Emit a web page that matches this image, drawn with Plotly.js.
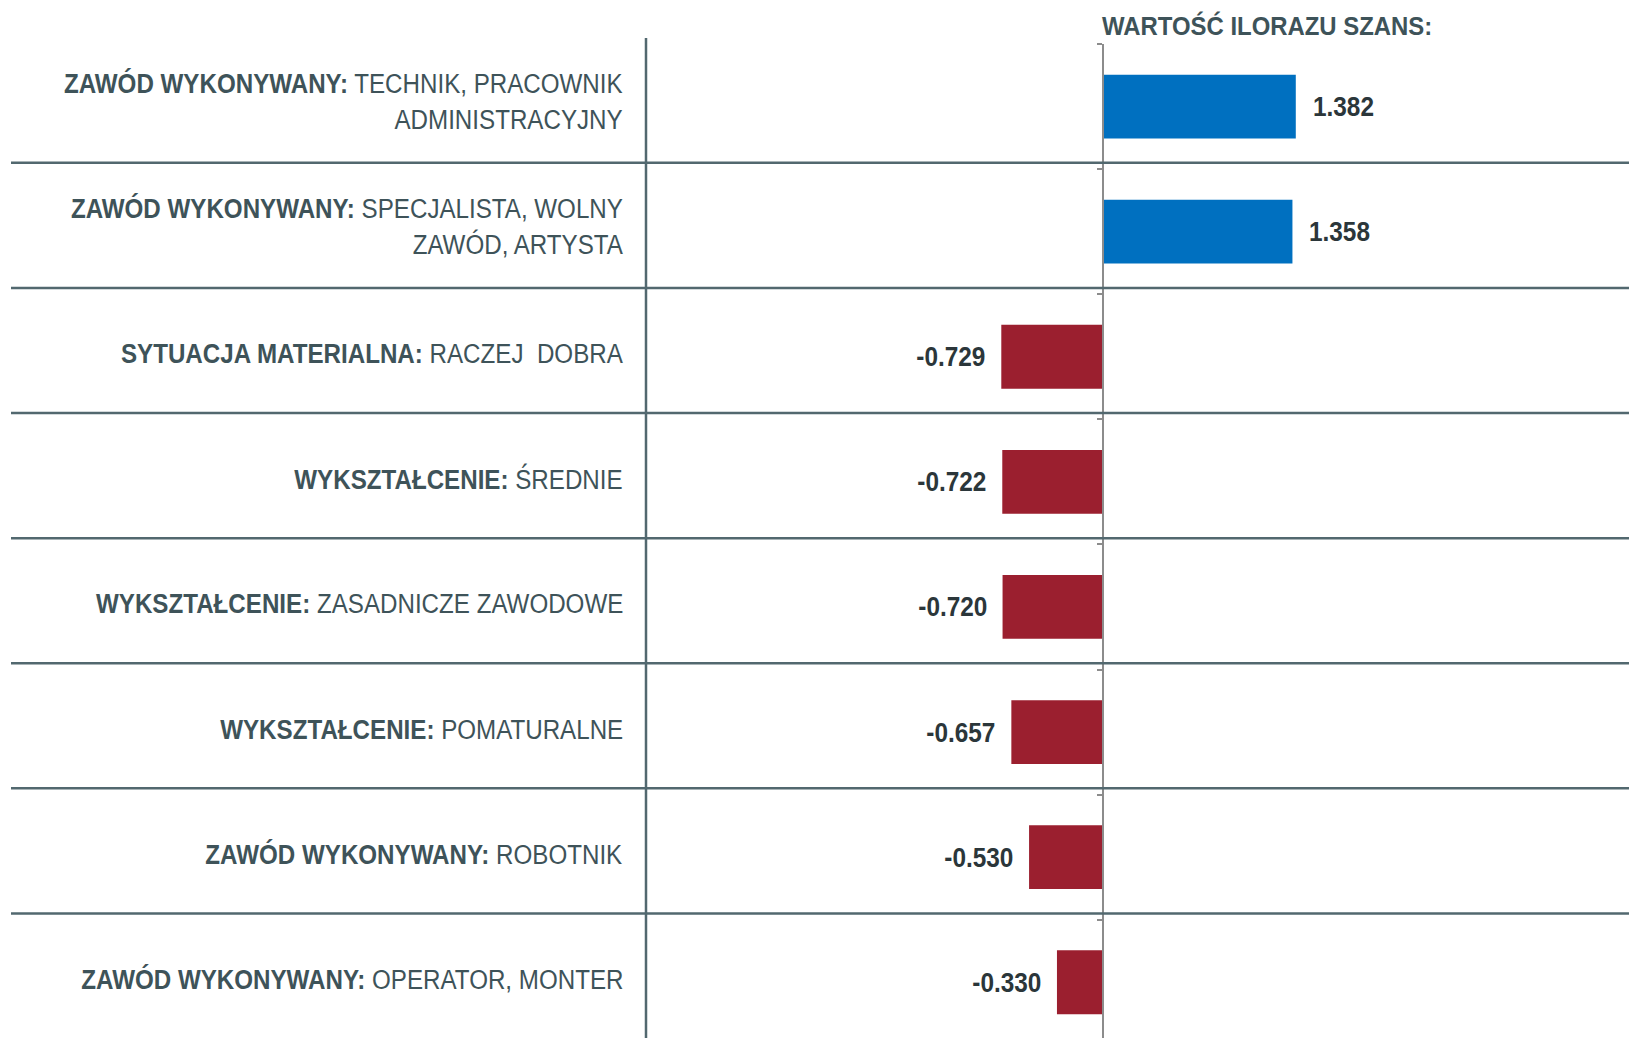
<!DOCTYPE html>
<html>
<head>
<meta charset="utf-8">
<script src="https://cdn.plot.ly/plotly-3.0.1.min.js"></script>
<style>
  html, body { margin: 0; padding: 0; background: #ffffff; }
  #chart { width: 1629px; height: 1038px; }
</style>
</head>
<body>
<div id="chart"></div>
<script>
// ---- Data ----
const categoryGroups = [
  'ZAWÓD WYKONYWANY:',
  'ZAWÓD WYKONYWANY:',
  'SYTUACJA MATERIALNA:',
  'WYKSZTAŁCENIE:',
  'WYKSZTAŁCENIE:',
  'WYKSZTAŁCENIE:',
  'ZAWÓD WYKONYWANY:',
  'ZAWÓD WYKONYWANY:'
];
const categoryDetails = [
  'TECHNIK, PRACOWNIK<br>ADMINISTRACYJNY',
  'SPECJALISTA, WOLNY<br>ZAWÓD, ARTYSTA',
  'RACZEJ\u00A0 DOBRA',
  'ŚREDNIE',
  'ZASADNICZE ZAWODOWE',
  'POMATURALNE',
  'ROBOTNIK',
  'OPERATOR, MONTER'
];
const oddsValues = [1.382, 1.358, -0.729, -0.722, -0.720, -0.657, -0.530, -0.330];
const valueLabels = ['1.382', '1.358', '-0.729', '-0.722', '-0.720', '-0.657', '-0.530', '-0.330'];
const chartTitle = 'WARTOŚĆ ILORAZU SZANS:';

// ---- Styling ----
const FONT = '"Liberation Sans Narrow", "Arial Narrow", "Liberation Sans", Arial, sans-serif';
const POS_COLOR = '#0070C0';
const NEG_COLOR = '#9B1F2F';
const LABEL_COLOR = '#3E5359';
const VALUE_COLOR = '#2B363A';
const RULE_COLOR = '#52686F';
const AXIS_COLOR = '#8C8C8C';

const W = 1629, H = 1038;
const ZERO_PX = 1103;
const PX_PER_UNIT = 139.5;
const LABEL_SQUEEZE = 0.863;   // condensed look of the original typeface
const VALUE_SQUEEZE = 0.87;
const TITLE_SQUEEZE = 0.92;

const categoryKeys = categoryGroups.map((g, i) => g + ' ' + categoryDetails[i]);

const trace = {
  type: 'bar',
  orientation: 'h',
  x: oddsValues,
  y: categoryKeys,
  width: 0.51,
  marker: { color: oddsValues.map(v => v >= 0 ? POS_COLOR : NEG_COLOR), line: { width: 0 } },
  hoverinfo: 'skip',
  showlegend: false
};

const annotations = [];
const squeeze = [];
// category labels (left column)
categoryKeys.forEach((k, i) => {
  const multi = categoryDetails[i].indexOf('<br>') >= 0;
  annotations.push({
    xref: 'paper', yref: 'y',
    x: 625 / W, y: k,
    xanchor: 'right', yanchor: 'middle', align: 'right',
    yshift: multi ? 5 : 3,
    showarrow: false,
    text: '<b>' + categoryGroups[i] + '</b> ' + categoryDetails[i],
    font: { family: FONT, size: 28, color: LABEL_COLOR }
  });
  squeeze.push(LABEL_SQUEEZE);
});
// value labels
oddsValues.forEach((v, i) => {
  annotations.push({
    xref: 'x', yref: 'y',
    x: v, y: categoryKeys[i],
    xanchor: v >= 0 ? 'left' : 'right', yanchor: 'middle',
    align: v >= 0 ? 'left' : 'right',
    xshift: v >= 0 ? 15 : -14,
    showarrow: false,
    text: '<b>' + valueLabels[i] + '</b>',
    font: { family: FONT, size: 28, color: VALUE_COLOR }
  });
  squeeze.push(VALUE_SQUEEZE);
});
// header
annotations.push({
  xref: 'paper', yref: 'paper',
  x: 1100 / W, y: 1, yshift: 18,
  xanchor: 'left', yanchor: 'middle', align: 'left',
  showarrow: false,
  text: '<b>' + chartTitle + '</b>',
  font: { family: FONT, size: 26, color: LABEL_COLOR }
});
squeeze.push(TITLE_SQUEEZE);

// separators
const topMargin = 44;
const rowPx = 125.1;
const yBottom = -0.5 + (H - topMargin) / rowPx;

const shapes = [];
for (let k = 0; k < categoryKeys.length - 1; k++) {
  shapes.push({
    type: 'line', xref: 'paper', yref: 'y',
    x0: 11 / W, x1: 1, y0: k + 0.45, y1: k + 0.45,
    line: { color: RULE_COLOR, width: 2.5 }
  });
}
shapes.push({
  type: 'line', xref: 'paper', yref: 'paper',
  x0: 646 / W, x1: 646 / W, y0: 0, y1: (H - 38) / (H - topMargin),
  line: { color: RULE_COLOR, width: 2.5 }
});

const layout = {
  width: W, height: H,
  margin: { l: 0, r: 0, t: topMargin, b: 0, pad: 0 },
  paper_bgcolor: '#ffffff',
  plot_bgcolor: 'rgba(0,0,0,0)',
  showlegend: false,
  xaxis: {
    range: [-ZERO_PX / PX_PER_UNIT, (W - ZERO_PX) / PX_PER_UNIT],
    showgrid: false, zeroline: false, showline: false,
    showticklabels: false, ticks: '', fixedrange: true
  },
  yaxis: {
    type: 'category',
    categoryorder: 'array', categoryarray: categoryKeys,
    range: [yBottom, -0.5],
    anchor: 'free', position: ZERO_PX / W,
    showline: true, linecolor: AXIS_COLOR, linewidth: 2,
    ticks: 'outside', tickson: 'boundaries', ticklen: 5, tickwidth: 2, tickcolor: AXIS_COLOR,
    showticklabels: false, showgrid: false, zeroline: false, fixedrange: true
  },
  shapes: shapes,
  annotations: annotations
};

function condenseTexts() {
  squeeze.forEach((s, i) => {
    const g = document.querySelector('#chart g.annotation[data-index="' + i + '"]');
    if (!g) return;
    const t = g.querySelector('text.annotation-text');
    if (!t) return;
    const ax = parseFloat(t.getAttribute('x')) || 0;
    const prev = t.getAttribute('data-base-transform') !== null ? t.getAttribute('data-base-transform') : (t.getAttribute('transform') || '');
    t.setAttribute('data-base-transform', prev);
    t.setAttribute('transform', prev + ' translate(' + ax + ',0) scale(' + s + ',1) translate(' + (-ax) + ',0)');
  });
}

Plotly.newPlot('chart', [trace], layout, { displayModeBar: false, staticPlot: true }).then(condenseTexts);
</script>
</body>
</html>
